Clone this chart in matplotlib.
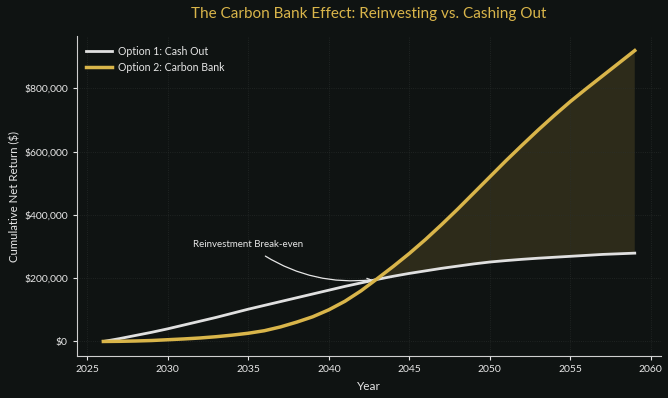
import matplotlib
matplotlib.use("Agg")
import matplotlib.pyplot as plt
from matplotlib.ticker import FuncFormatter

# data
years = list(range(2026, 2060))
cash_out = [0, 9000, 19000, 29000, 40000, 52000, 64000, 76000, 89000, 102000,
            114000, 126000, 138000, 150000, 162000, 174000, 185000, 196000,
            206000, 215000, 223000, 231000, 238000, 245000, 251000, 255500,
            259500, 263000, 266000, 269000, 272000, 275000, 277000, 279000]
carbon_bank = [0, 500, 1500, 3000, 5500, 8000, 11000, 15000, 20000, 26000,
               34000, 46000, 61000, 78000, 100000, 127000, 160000, 198000,
               237000, 278000, 322000, 369000, 418000, 469000, 520000, 571000,
               620000, 668000, 714000, 758000, 799000, 839000, 879000, 919000]

BG = "#0f1312"
GOLD = "#d9b54a"
LIGHT = "#e0e0e0"
TXT = "#e6e6e6"

plt.rcParams["font.family"] = ["Lato", "DejaVu Sans"]

fig = plt.figure(figsize=(6.68, 3.98), dpi=100, facecolor=BG)
ax = fig.add_axes([0.115, 0.1055, 0.875, 0.804])
ax.set_facecolor(BG)

ax.plot(years, cash_out, color=LIGHT, lw=2, label="Option 1: Cash Out", zorder=3)
ax.plot(years, carbon_bank, color=GOLD, lw=2.5, label="Option 2: Carbon Bank", zorder=3)
ax.fill_between(years, cash_out, carbon_bank,
                where=[b >= c for b, c in zip(carbon_bank, cash_out)],
                interpolate=True, color=GOLD, alpha=0.15, lw=0)

ax.annotate("Reinvestment Break-even", xy=(2042.7, 195000), xytext=(2035, 307000),
            color=TXT, fontsize=7.0, ha="center", va="center",
            arrowprops=dict(arrowstyle="->", color=TXT, lw=0.9,
                            connectionstyle="arc3,rad=0.2",
                            shrinkA=6, shrinkB=0))

ax.set_title("The Carbon Bank Effect: Reinvesting vs. Cashing Out",
             color=GOLD, fontsize=11, pad=13)
ax.set_xlabel("Year", color=TXT, fontsize=8.5, labelpad=5)
ax.set_ylabel("Cumulative Net Return ($)", color=TXT, fontsize=8.2, labelpad=2.5)
ax.yaxis.set_major_formatter(FuncFormatter(lambda v, p: f"${v:,.0f}"))
ax.set_yticks([0, 200000, 400000, 600000, 800000])

ax.grid(True, color="#2a2f2d", lw=0.6, ls=":", alpha=0.8)
ax.tick_params(colors=TXT, labelsize=7.5, length=3)
for s in ["top", "right"]:
    ax.spines[s].set_visible(False)
for s in ["left", "bottom"]:
    ax.spines[s].set_color("#cfcfcf")

leg = ax.legend(loc="upper left", frameon=False, fontsize=7.6, labelcolor=TXT,
                handlelength=2.4, handletextpad=0.6)

fig.savefig("out.png", dpi=100, facecolor=BG)
